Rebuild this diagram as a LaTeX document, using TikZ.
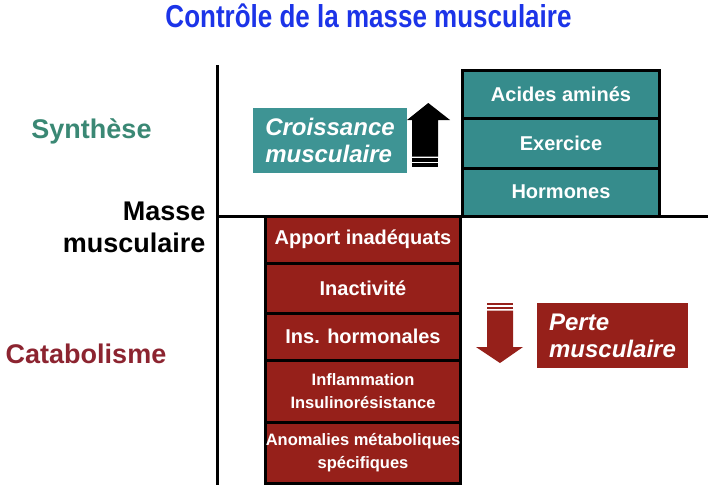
\documentclass[tikz,border=0pt]{standalone}
\usepackage{fontspec}
\setmainfont{Liberation Sans}
\usepackage{graphicx}
\definecolor{titleblue}{RGB}{28,52,232}
\definecolor{synteal}{RGB}{58,136,116}
\definecolor{boxteal}{RGB}{54,140,140}
\definecolor{growteal}{RGB}{62,148,148}
\definecolor{catred}{RGB}{140,36,48}
\definecolor{boxred}{RGB}{150,32,26}

\begin{document}
\begin{tikzpicture}[x=1pt, y=-1pt,
  redbox/.style={draw=black, line width=3pt, fill=boxred, text=white, minimum width=195pt, inner sep=0pt, align=center, font={\bfseries\fontsize{20}{23}\selectfont}},
  smallred/.style={redbox, font={\bfseries\fontsize{16.5}{23}\selectfont}},
  tealbox/.style={draw=black, line width=3pt, fill=boxteal, text=white, minimum width=197pt, inner sep=0pt, align=center, font={\bfseries\fontsize{20}{23}\selectfont}},
  sidelabel/.style={anchor=base, font={\bfseries\fontsize{27}{32}\selectfont}},
  bigtag/.style={text=white, inner sep=0pt, align=left, font={\bfseries\itshape\fontsize{24}{27}\selectfont}}]
  \useasboundingbox (0,0) rectangle (711,485);

  % Title
  \node[anchor=base, text=titleblue, font={\bfseries\fontsize{26}{30}\selectfont}] (title) at (368.5,27) {\scalebox{1}[1.22]{Contr\^ole de la masse musculaire}};

  % Side labels
  \node[sidelabel, text=synteal] (synth) at (91.5,138) {Synth\`ese};
  \node[sidelabel, text=catred] (catab) at (86,363) {Catabolisme};
  \node[anchor=base east, align=right, font={\bfseries\fontsize{27}{32}\selectfont}] (masse) at (209,252) {Masse\\musculaire};

  % Synthesis boxes
  \node[tealbox, minimum height=48pt] (amines) at (561,94) {Acides amin\'es};
  \node[tealbox, minimum height=50pt] (exercice) at (561,143) {Exercice};
  \node[tealbox, minimum height=48pt] (hormones) at (561,192) {Hormones};

  % Catabolism boxes
  \node[redbox, minimum height=47pt] (apport) at (363,239.5) {Apport inad\'equats};
  \node[redbox, minimum height=50pt] (inactiv) at (363,288) {Inactivit\'e};
  \node[redbox, minimum height=47pt] (inshorm) at (363,336.5) {Ins. hormonales};
  \node[smallred, minimum height=62pt] (inflam) at (363,391) {Inflammation\\Insulinor\'esistance};
  \node[smallred, minimum height=61pt] (anomal) at (363,452.5) {Anomalies m\'etaboliques\\sp\'ecifiques};

  % Axes
  \draw[line width=3pt] (217,65) -- (217,485);
  \draw[line width=3pt] (217,216) -- (708,216);

  % Growth tag and arrow
  \fill[growteal] (253,108) rectangle (407,173);
  \node[bigtag] (croiss) at (330,140.5) {Croissance\\musculaire};
  \fill (412,156.7) -- (412,120) -- (407,120) -- (428.3,103) -- (450,120) -- (438,120) -- (438,156.7) -- cycle;
  \fill (412,158.3) rectangle (438,161.7);
  \fill (412,163.3) rectangle (438,166.7);

  % Loss tag and arrow
  \fill[boxred] (537,303) rectangle (688,368);
  \node[bigtag] (perte) at (612.5,335.5) {Perte\\musculaire};
  \fill[boxred] (487,310.7) -- (487,347) -- (476,347) -- (500,363) -- (523,347) -- (513,347) -- (513,310.7) -- cycle;
  \fill[boxred] (487,303) rectangle (513,305.3);
  \fill[boxred] (487,307.3) rectangle (513,309.3);
\end{tikzpicture}
\end{document}
